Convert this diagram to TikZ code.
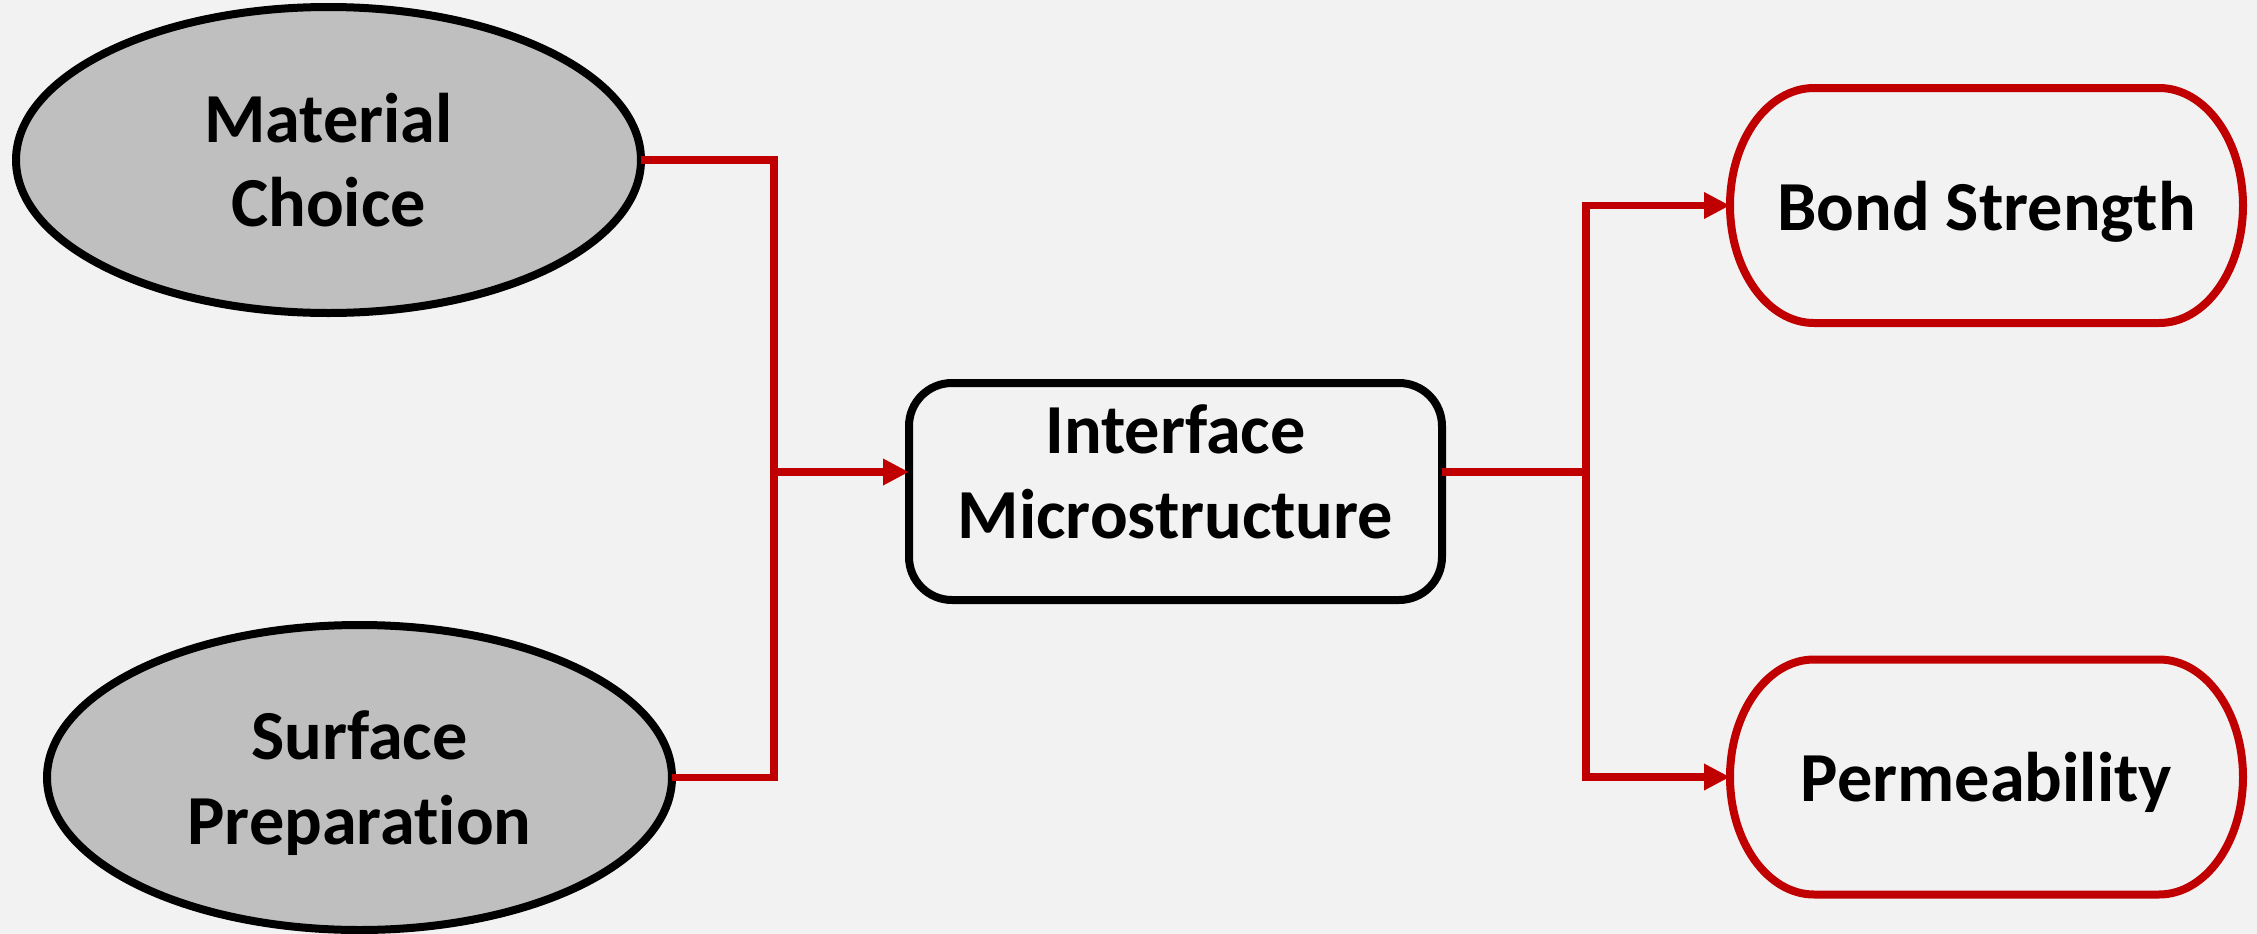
\documentclass[tikz,border=0pt]{standalone}
\usepackage{fontspec}
\setmainfont{Carlito}[Ligatures=NoCommon]
\usetikzlibrary{shapes.geometric,arrows.meta}

\definecolor{pagebg}{HTML}{F2F2F2}
\definecolor{causefill}{HTML}{BFBFBF}
\definecolor{linkred}{HTML}{C00000}

\tikzset{
  lbl/.style={font=\fontsize{20}{24}\selectfont\bfseries, align=center, text depth=0pt, inner sep=0pt},
  cause/.style={ellipse, draw=black, line width=0.8mm, fill=causefill, inner sep=0pt, outer sep=0pt, lbl},
  hub/.style={rectangle, rounded corners=4.3mm, draw=black, line width=0.8mm, inner sep=0pt, outer sep=0pt,
              minimum width=53.3mm, minimum height=21.7mm},
  effect/.style={rectangle, inner sep=0pt, outer sep=0pt, minimum width=51.3mm, minimum height=23.5mm, lbl},
  effectline/.style={draw=linkred, line width=0.8mm},
  wire/.style={draw=linkred, line width=0.75mm},
  tip/.style={-{Triangle[length=2.6mm,width=2.5mm]}}
}

\begin{document}
\begin{tikzpicture}[x=0.1mm, y=-0.1mm]
  % canvas
  \fill[pagebg] (0,0) rectangle (2257,934);
  \useasboundingbox (0,0) rectangle (2257,934);

  % inputs
  \node[cause, minimum width=62.5mm, minimum height=30.6mm] (mat) at (328.5,160) {Material\\Choice};
  \node[cause, minimum width=62.5mm, minimum height=30.5mm] (surf) at (359.5,777.5) {Surface\\Preparation};

  % central box
  \node[hub] (iface) at (1175.5,491.5) {};
  \node[lbl] (ifacetext) at (1175.5,471.5) {Interface\\Microstructure};

  % outcomes
  \node[effect] (bond) at (1986.5,205.5) {Bond Strength};
  \node[effect] (perm) at (1986.5,777) {Permeability};
  \foreach \n in {bond,perm}
    \draw[effectline]
      ([xshift=8.4mm]\n.north west) -- ([xshift=-8.4mm]\n.north east)
      arc[start angle=90, end angle=-90, x radius=8.4mm, y radius=11.75mm]
      -- ([xshift=8.4mm]\n.south west)
      arc[start angle=270, end angle=90, x radius=8.4mm, y radius=11.75mm]
      -- cycle;

  % junctions
  \coordinate (jin) at (774,472);
  \coordinate (jout) at (1586,472);

  % connectors
  \draw[wire] (mat.east) -| (jin);
  \draw[wire] (surf.east) -| (jin);
  \draw[wire, tip] (jin) -- (jin -| iface.west);
  \draw[wire] (jin -| iface.east) -- (jout);
  \draw[wire, tip] (jout) |- (bond.west);
  \draw[wire, tip] (jout) |- (perm.west);
\end{tikzpicture}
\end{document}
